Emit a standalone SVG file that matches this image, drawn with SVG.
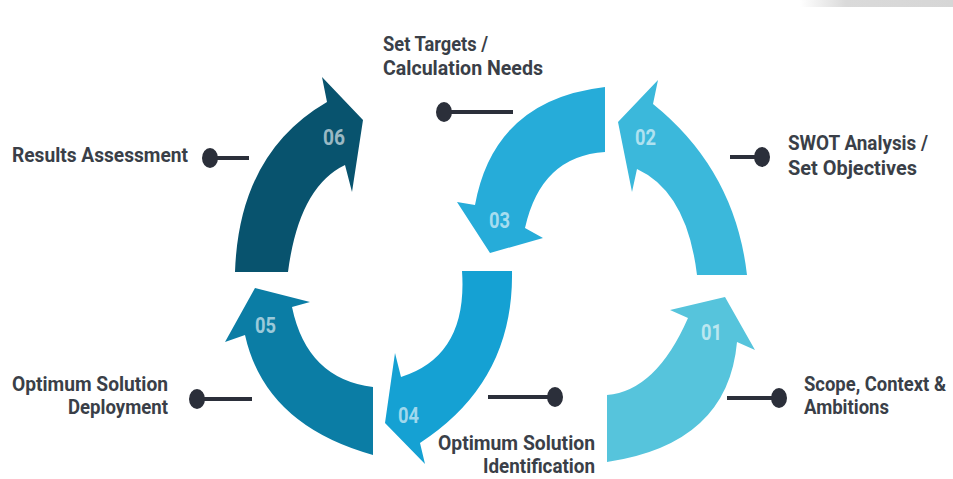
<svg xmlns="http://www.w3.org/2000/svg" width="953" height="479" viewBox="0 0 953 479">
  <defs>
    <linearGradient id="bar" x1="0" y1="0" x2="1" y2="0">
      <stop offset="0" stop-color="#ffffff"/>
      <stop offset="0.3" stop-color="#dadada"/>
      <stop offset="1" stop-color="#d6d6d6"/>
    </linearGradient>
  </defs>
  <style>
    .lbl { font-family: Roboto, "Liberation Sans", Arial, sans-serif; font-weight: 700; font-size: 21px; fill: #3a3f48; }
    .num { font-family: Roboto, "Liberation Sans", Arial, sans-serif; font-weight: 700; font-size: 22px; fill: #ffffff; fill-opacity: 0.6; }
    .ln { stroke: #2b2f3a; stroke-width: 4; fill: none; }
    .dot { fill: #2b2f3a; }
  </style>
  <rect width="953" height="479" fill="#ffffff"/>
  <rect x="800" y="0" width="153" height="7" fill="url(#bar)"/>

  <g id="node-01">
    <path d="M607,462 L607,395 Q656,391 688,318 L670,310 L725,297 L755,350 L737,342 Q728,444 607,462 Z" fill="#56c4dc"/>
    <text class="num" x="701" y="340" textLength="21" lengthAdjust="spacingAndGlyphs">01</text>
    <text class="lbl" x="804" y="391" font-size="20" textLength="142" lengthAdjust="spacingAndGlyphs">Scope, Context &amp;</text>
    <text class="lbl" x="804" y="414" textLength="85" lengthAdjust="spacingAndGlyphs">Ambitions</text>
  </g>

  <g id="node-02">
    <path d="M747,275 L697,275 Q687,192 637,169 L632,192 L618,122 L658,80 L653,104 Q735,170 747,275 Z" fill="#3bb8db"/>
    <text class="num" x="635" y="145" textLength="21" lengthAdjust="spacingAndGlyphs">02</text>
    <text class="lbl" x="788" y="150" textLength="140" lengthAdjust="spacingAndGlyphs">SWOT Analysis /</text>
    <text class="lbl" x="788" y="175" textLength="129" lengthAdjust="spacingAndGlyphs">Set Objectives</text>
  </g>

  <g id="node-03">
    <path d="M605,87 L605,152 Q541,156 525,228 L543,238 L490,253 L457,202 L475,205 Q494,100 605,87 Z" fill="#26acd9"/>
    <text class="num" x="489" y="228" textLength="21" lengthAdjust="spacingAndGlyphs">03</text>
    <text class="lbl" x="383" y="51" textLength="105" lengthAdjust="spacingAndGlyphs">Set Targets /</text>
    <text class="lbl" x="383" y="75" textLength="160" lengthAdjust="spacingAndGlyphs">Calculation Needs</text>
  </g>

  <g id="node-04">
    <path d="M462,271 L512,271 Q514,382 420,443 L425,464 L385,423 L395,353 L401,377 Q468,356 462,271 Z" fill="#15a1d3"/>
    <text class="num" x="398" y="423" textLength="21" lengthAdjust="spacingAndGlyphs">04</text>
    <text class="lbl" x="595" y="450" text-anchor="end" textLength="157" lengthAdjust="spacingAndGlyphs">Optimum Solution</text>
    <text class="lbl" x="595" y="473" text-anchor="end" textLength="112" lengthAdjust="spacingAndGlyphs">Identification</text>
  </g>

  <g id="node-05">
    <path d="M373,455 L373,387 Q307,379 292,307 L310,302 L255,288 L225,342 L245,335 Q265,425 373,455 Z" fill="#0b7da5"/>
    <text class="num" x="255" y="333" textLength="21" lengthAdjust="spacingAndGlyphs">05</text>
    <text class="lbl" x="168" y="391" text-anchor="end" textLength="156" lengthAdjust="spacingAndGlyphs">Optimum Solution</text>
    <text class="lbl" x="168" y="414" text-anchor="end" textLength="100" lengthAdjust="spacingAndGlyphs">Deployment</text>
  </g>

  <g id="node-06">
    <path d="M235,272 L288,272 Q299,187 345,165 L352,192 L363,120 L322,77 L327,102 Q239,153 235,272 Z" fill="#08536e"/>
    <text class="num" x="323" y="145" textLength="22" lengthAdjust="spacingAndGlyphs">06</text>
    <text class="lbl" x="12" y="162" textLength="176" lengthAdjust="spacingAndGlyphs">Results Assessment</text>
  </g>

  <g id="connectors">
    <line class="ln" x1="210" y1="158" x2="249" y2="158"/>
    <ellipse class="dot" cx="210" cy="158" rx="8" ry="10"/>
    <line class="ln" x1="444" y1="112" x2="513" y2="112"/>
    <ellipse class="dot" cx="444" cy="112" rx="8" ry="10"/>
    <line class="ln" x1="730" y1="157" x2="762" y2="157"/>
    <ellipse class="dot" cx="762" cy="157" rx="8" ry="10"/>
    <line class="ln" x1="727" y1="398" x2="779" y2="398"/>
    <ellipse class="dot" cx="779" cy="398" rx="8" ry="10"/>
    <line class="ln" x1="488" y1="397" x2="555" y2="397"/>
    <ellipse class="dot" cx="555" cy="397" rx="8" ry="10"/>
    <line class="ln" x1="197" y1="399" x2="252" y2="399"/>
    <ellipse class="dot" cx="197" cy="399" rx="8" ry="10"/>
  </g>
</svg>
